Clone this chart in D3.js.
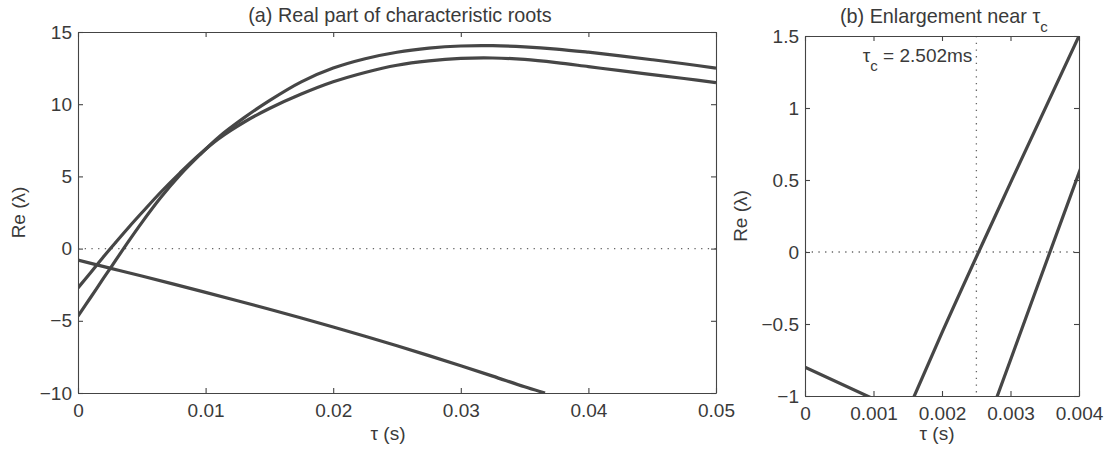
<!DOCTYPE html>
<html>
<head>
  <meta charset="utf-8">
  <script src="https://cdn.jsdelivr.net/npm/d3@7"></script>
  <style>
    body { margin: 0; background: #fff; }
    text { font-family: "Liberation Sans", Arial, sans-serif; fill: #3a3a3a; }
  </style>
</head>
<body>
<script>
  "use strict";

  // data
  var tau  = [0, 0.001, 0.002, 0.003, 0.004, 0.005, 0.0065, 0.008, 0.0095, 0.011, 0.013, 0.015,
              0.0175, 0.02, 0.0225, 0.025, 0.0275, 0.03, 0.0325, 0.035, 0.0375, 0.04, 0.0425,
              0.045, 0.0475, 0.05];
  var reA  = [-2.72, -1.65, -0.56, 0.48, 1.5, 2.48, 3.92, 5.25, 6.5, 7.6, 8.75, 9.7,
              10.7, 11.55, 12.2, 12.7, 13.0, 13.17, 13.2, 13.1, 12.88, 12.6, 12.32,
              12.05, 11.78, 11.5];
  var reB  = [-4.68, -3.37, -2.05, -0.75, 0.55, 1.8, 3.55, 5.1, 6.45, 7.7, 9.05, 10.25,
              11.55, 12.5, 13.15, 13.6, 13.88, 14.03, 14.05, 13.97, 13.82, 13.6, 13.35,
              13.08, 12.8, 12.5];
  var tauC = [0, 0.0025, 0.005, 0.0075, 0.01, 0.0125, 0.015, 0.0175, 0.02, 0.0225, 0.025,
              0.0275, 0.03, 0.0325, 0.035, 0.0366];
  var reC  = [-0.8, -1.35, -1.9, -2.46, -3.03, -3.61, -4.2, -4.81, -5.43, -6.07, -6.73,
              -7.41, -8.11, -8.83, -9.57, -10.0];
  var tauCrit = 0.002502;

  var xTicksA = [0, 0.01, 0.02, 0.03, 0.04, 0.05];
  var yTicksA = [-10, -5, 0, 5, 10, 15];
  var xTicksB = [0, 0.001, 0.002, 0.003, 0.004];
  var yTicksB = [-1, -0.5, 0, 0.5, 1, 1.5];

  var W = 1117, H = 450;
  var svg = d3.select("body").append("svg").attr("width", W).attr("height", H);

  var fmt = function(d) { return d < 0 ? "\u2212" + Math.abs(d) : String(d); };
  var seriesA = tau.map(function(t, i) { return [t, reA[i]]; });
  var seriesB = tau.map(function(t, i) { return [t, reB[i]]; });
  var seriesC = tauC.map(function(t, i) { return [t, reC[i]]; });

  function panel(opt) {
    var x = d3.scaleLinear().domain(opt.xd).range([opt.left, opt.right]);
    var y = d3.scaleLinear().domain(opt.yd).range([opt.bottom, opt.top]);
    var g = svg.append("g");

    g.append("clipPath").attr("id", opt.id)
      .append("rect").attr("x", opt.left).attr("y", opt.top)
      .attr("width", opt.right - opt.left).attr("height", opt.bottom - opt.top);

    // dotted guide lines
    g.append("line")
      .attr("x1", opt.left).attr("x2", opt.right)
      .attr("y1", y(0)).attr("y2", y(0))
      .attr("stroke", "#666").attr("stroke-width", 1.3)
      .attr("stroke-dasharray", "1.3,5.4");
    if (opt.vline != null) {
      g.append("line")
        .attr("x1", x(opt.vline)).attr("x2", x(opt.vline))
        .attr("y1", opt.top).attr("y2", opt.bottom)
        .attr("stroke", "#666").attr("stroke-width", 1.3)
        .attr("stroke-dasharray", "1.3,5.4");
    }

    var line = d3.line().x(function(d) { return x(d[0]); }).y(function(d) { return y(d[1]); })
      .curve(d3.curveCatmullRom.alpha(0.5));
    [seriesC, seriesA, seriesB].forEach(function(s) {
      g.append("path").datum(s)
        .attr("clip-path", "url(#" + opt.id + ")")
        .attr("fill", "none").attr("stroke", "#464646").attr("stroke-width", 3.2)
        .attr("d", line);
    });

    // axes, MATLAB-like box with inward ticks
    var bottom = g.append("g").attr("transform", "translate(0," + opt.bottom + ")")
      .call(d3.axisBottom(x).tickValues(opt.xt).tickFormat(fmt).tickSizeInner(-5).tickSizeOuter(0).tickPadding(11));
    var top = g.append("g").attr("transform", "translate(0," + opt.top + ")")
      .call(d3.axisTop(x).tickValues(opt.xt).tickFormat("").tickSizeInner(-5).tickSizeOuter(0));
    var left = g.append("g").attr("transform", "translate(" + opt.left + ",0)")
      .call(d3.axisLeft(y).tickValues(opt.yt).tickFormat(fmt).tickSizeInner(-5).tickSizeOuter(0).tickPadding(6));
    var right = g.append("g").attr("transform", "translate(" + opt.right + ",0)")
      .call(d3.axisRight(y).tickValues(opt.yt).tickFormat("").tickSizeInner(-5).tickSizeOuter(0));
    [bottom, top, left, right].forEach(function(a) {
      a.selectAll("path, line").attr("stroke", "#444").attr("stroke-width", 1.1);
      a.selectAll("text").style("font-size", "19px").attr("fill", "#3a3a3a");
    });

    // labels
    g.append("text").attr("x", opt.xlabX).attr("y", 440)
      .attr("text-anchor", "middle").style("font-size", "19px").text("\u03c4 (s)");
    g.append("text")
      .attr("transform", "translate(" + opt.ylabX + "," + ((opt.top + opt.bottom) / 2) + ") rotate(-90)")
      .attr("text-anchor", "middle").style("font-size", "19px").text("Re (\u03bb)");
    return { x: x, y: y, g: g };
  }

  var pA = panel({ id: "clipA", left: 78, right: 716, top: 32, bottom: 393,
    xd: [0, 0.05], yd: [-10, 15], xt: xTicksA, yt: yTicksA, xlabX: 388, ylabX: 25 });
  var pB = panel({ id: "clipB", left: 805, right: 1079, top: 36, bottom: 396,
    xd: [0, 0.004], yd: [-1, 1.5], xt: xTicksB, yt: yTicksB, xlabX: 937, ylabX: 747,
    vline: tauCrit });

  svg.append("text").attr("x", 400).attr("y", 22).attr("text-anchor", "middle")
    .style("font-size", "19.8px").text("(a) Real part of characteristic roots");

  var tb = svg.append("text").attr("x", 840).attr("y", 23).style("font-size", "19.8px");
  tb.append("tspan").text("(b) Enlargement near \u03c4");
  tb.append("tspan").attr("dy", 9).style("font-size", "15px").text("c");

  var tc = svg.append("text").attr("x", pB.x(tauCrit) - 4).attr("y", 62)
    .attr("text-anchor", "end").style("font-size", "19px");
  tc.append("tspan").text("\u03c4");
  tc.append("tspan").attr("dy", 9).style("font-size", "15px").text("c");
  tc.append("tspan").attr("dy", -9).text(" = " + (tauCrit * 1000).toFixed(3) + "ms");
</script>
</body>
</html>
